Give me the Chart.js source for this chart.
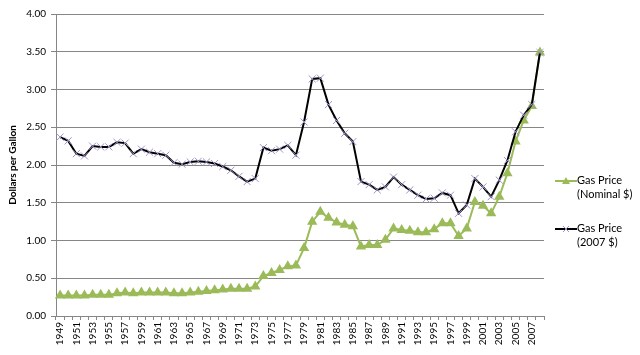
<!DOCTYPE html>
<html>
<head>
<meta charset="utf-8">
<script src="https://cdn.jsdelivr.net/npm/chart.js@4/dist/chart.umd.min.js"></script>
<style>
html,body{margin:0;padding:0;background:#fff;}
#wrap{position:relative;width:640px;height:355px;}
#legend{position:absolute;left:555px;top:173px;font-family:Lato,"Open Sans",sans-serif;font-size:11px;color:#000;line-height:14px;}
.item{position:relative;padding-left:22px;margin-bottom:20px;}
.item svg{position:absolute;left:0;top:1px;}
</style>
</head>
<body>
<div id="wrap">
<canvas id="c" width="640" height="355"></canvas>
<div id="legend">
  <div class="item"><svg width="22" height="14"><line x1="0" y1="7" x2="22" y2="7" stroke="#9bbb59" stroke-width="2"/><polygon points="11,3 15,10 7,10" fill="#9bbb59"/></svg>Gas Price<br>(Nominal $)</div>
  <div class="item"><svg width="22" height="14"><line x1="0" y1="7" x2="22" y2="7" stroke="#000" stroke-width="2"/><line x1="8" y1="4" x2="14" y2="10" stroke="#a193c9" stroke-width="1"/><line x1="14" y1="4" x2="8" y2="10" stroke="#a193c9" stroke-width="1"/></svg>Gas Price<br>(2007 $)</div>
</div>
</div>
<script>
const years = [];
for (let y = 1949; y <= 2008; y++) years.push(String(y));

const nominal = [0.27,0.27,0.27,0.27,0.28,0.28,0.28,0.30,0.31,0.30,
  0.31,0.31,0.31,0.31,0.30,0.30,0.31,0.32,0.33,0.34,
  0.35,0.36,0.36,0.36,0.39,0.53,0.57,0.61,0.66,0.67,
  0.90,1.25,1.38,1.30,1.24,1.21,1.19,0.92,0.94,0.94,
  1.01,1.16,1.14,1.13,1.11,1.11,1.15,1.23,1.23,1.06,
  1.16,1.51,1.46,1.36,1.58,1.89,2.31,2.59,2.78,3.49];

const real2007 = [2.37,2.32,2.15,2.12,2.25,2.24,2.24,2.30,2.29,2.15,
  2.21,2.17,2.15,2.13,2.03,2.01,2.04,2.05,2.04,2.02,
  1.98,1.93,1.85,1.78,1.82,2.23,2.19,2.21,2.26,2.13,
  2.57,3.14,3.15,2.80,2.59,2.42,2.31,1.78,1.74,1.67,
  1.71,1.84,1.74,1.67,1.60,1.55,1.56,1.63,1.60,1.36,
  1.47,1.82,1.71,1.58,1.80,2.06,2.44,2.66,2.80,3.49];

const yTicks = [0,0.5,1,1.5,2,2.5,3,3.5,4];

const font = {family: 'Lato, "Open Sans", sans-serif', size: 10};

new Chart(document.getElementById('c'), {
  type: 'line',
  data: {
    labels: years,
    datasets: [
      {label: 'Gas Price (2007 $)', data: real2007, borderColor: '#000', borderWidth: 2,
       pointStyle: 'crossRot', pointRadius: 5, pointBorderColor: '#a193c9', pointBorderWidth: 1,
       pointBackgroundColor: '#a193c9', tension: 0, order: 1},
      {label: 'Gas Price (Nominal $)', data: nominal, borderColor: '#9bbb59', borderWidth: 2,
       pointStyle: 'triangle', pointRadius: 4, pointBorderColor: '#9bbb59', pointBackgroundColor: '#9bbb59',
       tension: 0, order: 2}
    ]
  },
  options: {
    responsive: false,
    animation: false,
    layout: {padding: {top: 14, right: 96, left: 0, bottom: 0}},
    plugins: {legend: {display: false}, tooltip: {enabled: false}},
    scales: {
      x: {
        offset: true,
        grid: {display: true, drawOnChartArea: false, drawTicks: true, tickLength: 4, offset: true, color: '#868686'},
        border: {color: '#868686'},
        ticks: {autoSkip: false, maxRotation: 90, minRotation: 90, color: '#000', font: font, padding: 2,
          callback: function(v, i){ return i % 2 === 0 ? years[i] : ''; }},
        afterFit: function(s){ s.height = 39; }
      },
      y: {
        min: 0, max: 4,
        afterBuildTicks: function(s){ s.ticks = yTicks.map(v => ({value: v})); },
        grid: {color: '#868686', tickLength: 5, drawTicks: true},
        border: {color: '#868686'},
        ticks: {color: '#000', font: font, padding: 5, callback: v => v.toFixed(2)},
        title: {display: true, text: 'Dollars per Gallon', color: '#000', font: {family: font.family, size: 10, weight: 'bold'}, padding: {top: 7, bottom: 4}},
        afterFit: function(s){ s.width = 56; }
      }
    }
  }
});
</script>
</body>
</html>
